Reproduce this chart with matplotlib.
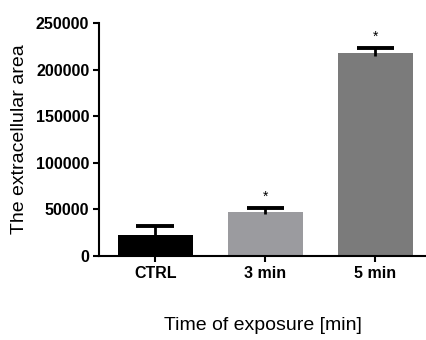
import matplotlib.pyplot as plt
import numpy as np

plt.rcParams['font.family'] = ['Liberation Sans', 'DejaVu Sans']

# data ---------------------------------------------------------------
categories = ["CTRL", "3 min", "5 min"]
means = [22500, 47500, 217500]
errors = [9700, 3600, 6000]
stars = ["", "*", "*"]
colors = ["#000000", "#9b9b9f", "#7b7b7b"]

# plot ---------------------------------------------------------------
fig = plt.figure(figsize=(4.27, 3.40), dpi=100)
ax = fig.add_axes([0.232, 0.247, 0.768, 0.685])

x = np.arange(len(categories))
bar_w = 0.68
cap_w = bar_w / 2
ax.bar(x, means, width=bar_w, color=colors, zorder=2)

tops = np.array(means) + np.array(errors)
# upper error bars only: stem + cap
ax.vlines(x, np.array(means) - 2500, tops, color="black", linewidth=2, zorder=3)
ax.hlines(tops, x - cap_w / 2, x + cap_w / 2, color="black", linewidth=2.8, zorder=3)

for i in range(len(x)):
    if stars[i]:
        ax.text(x[i], tops[i] + 4500, stars[i],
                ha="center", va="bottom", fontsize=10)

ax.set_xlim(-0.51, 2.47)
ax.set_ylim(0, 250000)
ax.set_yticks([0, 50000, 100000, 150000, 200000, 250000])
ax.set_xticks(x)
ax.set_xticklabels(categories)

for lab in ax.get_xticklabels() + ax.get_yticklabels():
    lab.set_fontweight("bold")
    lab.set_fontsize(11.5)

ax.spines["top"].set_visible(False)
ax.spines["right"].set_visible(False)
ax.spines["left"].set_linewidth(1.5)
ax.spines["bottom"].set_linewidth(1.5)
ax.tick_params(axis="both", width=1.5, length=4, pad=3)

ax.set_ylabel("The extracellular area", fontsize=14, labelpad=6)
ax.set_xlabel("Time of exposure [min]", fontsize=14, labelpad=26)

fig.savefig("out.png", dpi=100)
